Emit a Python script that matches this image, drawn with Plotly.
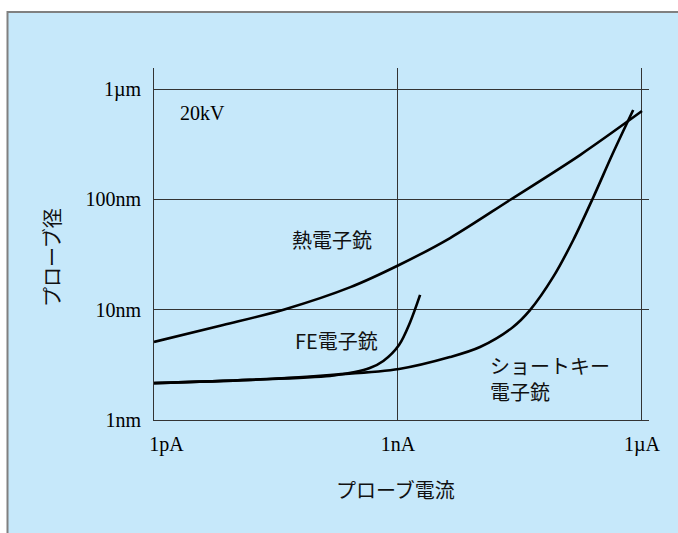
import plotly.graph_objects as go

# Probe diameter (nm) vs probe current (A) at 20 kV for three electron sources
thermal_current = [1e-12, 7.1e-12, 4.1e-11, 2.6e-10, 1.03e-9, 4.37e-9, 2.38e-8, 1.73e-7, 1.0e-6]
thermal_diameter = [5.1, 7.25, 10.1, 16.0, 25.4, 44.6, 98.6, 252, 631]

fe_current = [1e-12, 1.5e-11, 1.46e-10, 2.95e-10, 4.5e-10, 6.6e-10, 1.03e-9, 1.41e-9, 1.87e-9]
fe_diameter = [2.16, 2.31, 2.51, 2.72, 2.96, 3.43, 4.79, 7.7, 13.6]

schottky_current = [1e-12, 1.5e-11, 1.46e-10, 1.03e-9, 4.35e-9, 1.02e-8, 2.6e-8, 4.2e-8,
                    8.1e-8, 1.43e-7, 2.5e-7, 4.4e-7, 7.8e-7]
schottky_diameter = [2.16, 2.31, 2.56, 2.90, 3.72, 4.59, 6.97, 9.9, 19.8, 42.8, 103, 263, 646]

x_tickvals = [1e-12, 1e-9, 1e-6]
x_ticktext = ["\u00a0" * 5 + "1pA", "1nA", "1\u00b5A"]
y_tickvals = [1, 10, 100, 1000]
y_ticktext = ["1nm", "10nm", "100nm", "1\u00b5m"]

W, H = 678, 533
ML, MR, MT, MB = 154, 29, 68, 113
PW, PH = W - ML - MR, H - MT - MB

BG = "#c6e8fa"
GRID = "#333333"
SERIF = "Liberation Serif, Times New Roman, serif"
SANS = "Noto Sans CJK JP, Noto Sans, sans-serif"

fig = go.Figure()
line_style = dict(color="black", width=2.6, shape="spline", smoothing=0.9)
for xs, ys in [(thermal_current, thermal_diameter),
               (fe_current, fe_diameter),
               (schottky_current, schottky_diameter)]:
    fig.add_trace(go.Scatter(x=xs, y=ys, mode="lines", line=line_style,
                             showlegend=False, hoverinfo="skip"))

def px_x(px):
    return (px - ML) / PW

def px_y(py):
    return (MT + PH - py) / PH

# Panel background with grey border on the top and left edges
fig.add_shape(type="rect", xref="paper", yref="paper", layer="below",
              x0=px_x(7.5), x1=px_x(W + 20), y0=px_y(H + 20), y1=px_y(12),
              fillcolor=BG, line=dict(color="#808080", width=2))

annotations = [
    dict(text="20kV", x=-11.705, y=2.779, xref="x", yref="y", xanchor="left",
         yanchor="middle", font=dict(family=SERIF, size=20, color="black")),
    dict(text="熱電子銃", x=-9.811, y=1.640, xref="x", yref="y", xanchor="center",
         yanchor="middle", font=dict(family=SANS, size=20, color="#111")),
    dict(text="FE電子銃", x=-9.762, y=0.725, xref="x", yref="y", xanchor="center",
         yanchor="middle", font=dict(family=SANS, size=20, color="#111")),
    dict(text="ショートキー<br>電子銃", x=-7.893, y=0.376, xref="x", yref="y",
         xanchor="left", yanchor="middle", align="left",
         font=dict(family=SANS, size=20, color="#111")),
    dict(text="プローブ電流", x=px_x(395), y=px_y(489), xref="paper", yref="paper",
         xanchor="center", yanchor="middle", font=dict(family=SANS, size=20, color="#111")),
    dict(text="プローブ径", x=px_x(51), y=px_y(258), xref="paper", yref="paper",
         xanchor="center", yanchor="middle", textangle=-90,
         font=dict(family=SANS, size=20, color="#111")),
]
for a in annotations:
    fig.add_annotation(showarrow=False, **a)

fig.update_xaxes(type="log", range=[-12, -12 + PW / 81.33],
                 tickvals=x_tickvals, ticktext=x_ticktext, ticks="",
                 showgrid=True, gridcolor=GRID, gridwidth=1,
                 showline=True, linecolor=GRID, linewidth=1,
                 zeroline=False, ticklabelstandoff=6,
                 tickfont=dict(family=SERIF, size=20, color="black"))
fig.update_yaxes(type="log", range=[0, PH / 110.33],
                 tickvals=y_tickvals, ticktext=y_ticktext, ticks="",
                 showgrid=True, gridcolor=GRID, gridwidth=1,
                 showline=True, linecolor=GRID, linewidth=1,
                 zeroline=False, ticklabelstandoff=8,
                 tickfont=dict(family=SERIF, size=20, color="black"))

fig.update_layout(width=W, height=H,
                  margin=dict(l=ML, r=MR, t=MT, b=MB, pad=0),
                  paper_bgcolor="white", plot_bgcolor="rgba(0,0,0,0)",
                  showlegend=False)

fig.write_html("out.html")
